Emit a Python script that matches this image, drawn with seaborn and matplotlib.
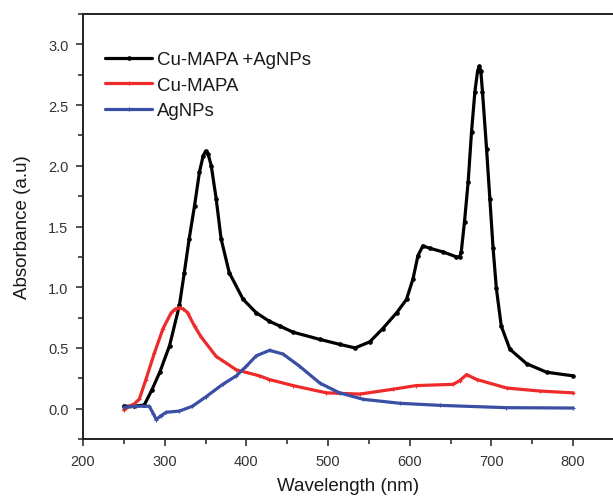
import matplotlib
matplotlib.use("Agg")
import matplotlib.pyplot as plt
import seaborn as sns
import numpy as np
import pandas as pd
from matplotlib.ticker import MultipleLocator

# ---- data ----
series_names = ["Cu-MAPA +AgNPs", "Cu-MAPA", "AgNPs"]

wl_hybrid = [250, 262, 275, 284, 294, 306, 318, 324, 330, 336.5, 342.6, 347, 350, 353, 357,
             363, 369, 379, 396, 412, 428, 441, 457, 490, 514, 533, 551, 567, 584, 596,
             604, 610, 616, 625, 641, 657, 661, 663, 667, 671.5, 675.6, 679.7, 683, 685,
             687, 689, 694, 698, 702, 706, 712, 722.5, 743, 767.5, 800]
abs_hybrid = [0.02, 0.02, 0.03, 0.15, 0.30, 0.52, 0.85, 1.12, 1.40, 1.67, 1.95, 2.08, 2.12, 2.10, 2.00,
              1.73, 1.40, 1.12, 0.90, 0.79, 0.72, 0.68, 0.63, 0.57, 0.53, 0.50, 0.55, 0.66, 0.79, 0.90,
              1.07, 1.26, 1.34, 1.32, 1.29, 1.25, 1.25, 1.29, 1.54, 1.87, 2.28, 2.61, 2.78, 2.82,
              2.78, 2.61, 2.14, 1.73, 1.32, 0.99, 0.68, 0.49, 0.37, 0.30, 0.27]

wl_cumapa = [250, 257, 263, 269, 277, 287.5, 298, 308, 313, 318, 323, 328, 336.5, 344.7, 363,
             387.6, 416, 428, 457, 498, 539, 579.5, 608, 653, 661, 669.5, 682, 718.5, 759, 800]
abs_cumapa = [-0.01, 0.02, 0.04, 0.08, 0.24, 0.46, 0.66, 0.79, 0.82, 0.83, 0.82, 0.79, 0.68, 0.59, 0.43,
              0.32, 0.27, 0.24, 0.19, 0.13, 0.12, 0.16, 0.19, 0.20, 0.23, 0.28, 0.24, 0.17, 0.145, 0.13]

wl_agnps = [250, 265, 281, 286, 289.6, 295, 302, 318, 334, 351, 371, 387.6, 400, 412, 428.4,
            444.7, 465, 490, 514, 543, 588, 637, 718, 800]
abs_agnps = [0.01, 0.02, 0.02, -0.04, -0.09, -0.06, -0.03, -0.02, 0.02, 0.10, 0.20, 0.27, 0.35, 0.435, 0.48,
             0.45, 0.35, 0.21, 0.13, 0.077, 0.044, 0.027, 0.008, 0.005]

colors = ["#000000", "#ee2a2a", "#3a4ea3"]
x_ticks = [200, 300, 400, 500, 600, 700, 800]
y_ticks = [0.0, 0.5, 1.0, 1.5, 2.0, 2.5, 3.0]

sns.set_theme(style="ticks")
plt.rcParams["font.family"] = ["Liberation Sans", "DejaVu Sans"]

fig = plt.figure(figsize=(6.13, 5.02), dpi=100)
ax = fig.add_axes([83 / 613, 62 / 502, 531 / 613, 425 / 502])

data = [(wl_hybrid, abs_hybrid), (wl_cumapa, abs_cumapa), (wl_agnps, abs_agnps)]
markers = ["o", "+", "+"]
for (wl, ab), name, c, m in zip(data, series_names, colors, markers):
    df = pd.DataFrame({"Wavelength": wl, "Absorbance": ab})
    sns.lineplot(data=df, x="Wavelength", y="Absorbance", ax=ax, color=c, label=name,
                 sort=False, linewidth=2.3, marker=m, markersize=2.5,
                 markeredgewidth=0.8, markeredgecolor=c)

ax.set_xlim(200, 850)
ax.set_ylim(-0.25, 3.25)
ax.set_xticks(x_ticks)
ax.set_yticks(y_ticks)
ax.set_xticklabels([str(v) for v in x_ticks])
ax.set_yticklabels([f"{v:.1f}" for v in y_ticks])
ax.xaxis.set_minor_locator(MultipleLocator(50))
ax.yaxis.set_minor_locator(MultipleLocator(0.25))

ax.tick_params(which="major", direction="out", length=5, width=1.1, labelsize=10.5,
               labelcolor="#333333", color="#222222", pad=5.5)
ax.tick_params(which="minor", direction="out", length=3.5, width=1.1, color="#222222")

for s in ax.spines.values():
    s.set_linewidth(1.4)
    s.set_color("#222222")
    s.set_visible(True)

ax.set_xlabel("Wavelength (nm)", fontsize=13.5, color="#1a1a1a", labelpad=7)
ax.set_ylabel("Absorbance (a.u)", fontsize=13.5, color="#1a1a1a", labelpad=12)

leg = ax.legend(loc="upper left", bbox_to_anchor=(0.042, 0.912), frameon=False,
                fontsize=13.4, handlelength=2.5, handletextpad=0.3, labelspacing=0.45,
                borderpad=0, borderaxespad=0)
for t in leg.get_texts():
    t.set_color("#1a1a1a")

fig.savefig("out.png", dpi=100)
